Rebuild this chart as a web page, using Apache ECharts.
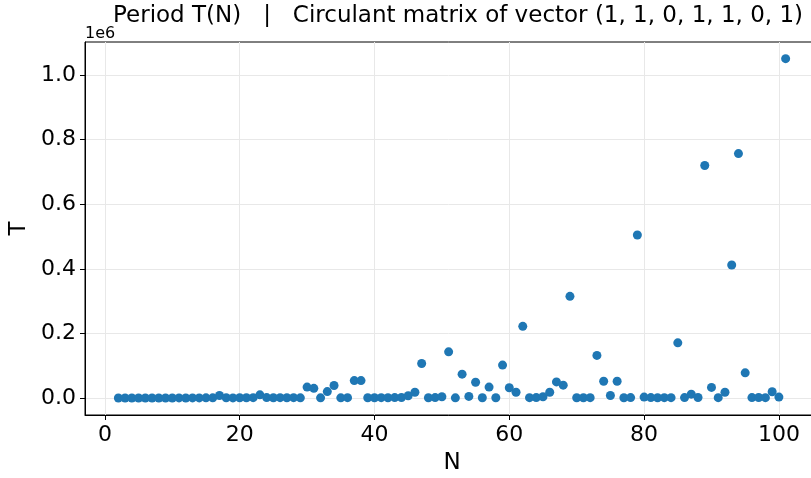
<!DOCTYPE html>
<html>
<head>
<meta charset="utf-8">
<script src="https://cdn.jsdelivr.net/npm/echarts@6/dist/echarts.min.js"></script>
<style>
  html, body { margin: 0; padding: 0; background: #fff; }
  #chart { width: 811px; height: 478px; }
</style>
</head>
<body>
<div id="chart"></div>
<script>
// N values (matrix size) and period T(N)
const nValues = [
  2, 3, 4, 5, 6, 7, 8, 9, 10, 11, 12, 13, 14, 15, 16, 17, 18, 19, 20, 21,
  22, 23, 24, 25, 26, 27, 28, 29, 30, 31, 32, 33, 34, 35, 36, 37, 38, 39, 40, 41,
  42, 43, 44, 45, 46, 47, 48, 49, 50, 51, 52, 53, 54, 55, 56, 57, 58, 59, 60, 61,
  62, 63, 64, 65, 66, 67, 68, 69, 70, 71, 72, 73, 74, 75, 76, 77, 78, 79, 80, 81,
  82, 83, 84, 85, 86, 87, 88, 89, 90, 91, 92, 93, 94, 95, 96, 97, 98, 99, 100, 101
];
const periods = [
  6, 12, 20, 60, 42, 56, 120, 210, 300, 330, 250, 500, 400, 600, 700, 8000, 900, 500, 1000, 800,
  1200, 10000, 1400, 900, 1100, 800, 1100, 600, 34000, 30000, 600, 20000, 39000, 600, 1200, 54000, 54000, 1000, 800, 1200,
  900, 1400, 1600, 7000, 18000, 107000, 1000, 1500, 4000, 143000, 700, 74000, 5000, 49000, 900, 34000, 1000, 102000, 32000, 18000,
  222000, 1200, 1500, 4000, 18000, 50000, 40000, 315000, 800, 900, 1200, 132000, 52000, 8000, 52000, 1000, 1400, 505000, 3000, 1500,
  1000, 1200, 1300, 171000, 1500, 12000, 1800, 720000, 33000, 1200, 18000, 412000, 757000, 78000, 1500, 1600, 1200, 19500, 3000, 1051000
];
const xTicks = [0, 20, 40, 60, 80, 100];
const yTicks = [0, 200000, 400000, 600000, 800000, 1000000];

const points = nValues.map((n, i) => [n, periods[i]]);

const chart = echarts.init(document.getElementById("chart"));
const font = "DejaVu Sans";

chart.setOption({
  animation: false,
  backgroundColor: "#fff",
  title: {
    text: "Period T(N)   |   Circulant matrix of vector (1, 1, 0, 1, 1, 0, 1)",
    left: 453,
    textAlign: "center",
    top: 0,
    textStyle: { fontFamily: font, fontWeight: "normal", fontSize: 23, color: "#000" },
  },
  graphic: [
    {
      type: "text",
      left: 85,
      top: 26,
      style: { text: "1e6", font: "16px " + font, fill: "#000" },
    },
  ],
  grid: {
    left: 85,
    right: -8,
    top: 42,
    bottom: 63,
    outerBoundsMode: "none",
    containLabel: false,
    show: true,
    borderColor: "#000",
    borderWidth: 1,
    backgroundColor: "transparent",
  },
  xAxis: {
    type: "value",
    min: -2.95,
    max: 105.95,
    name: "N",
    nameLocation: "middle",
    nameGap: 37,
    nameTextStyle: { fontFamily: font, fontSize: 23, color: "#000" },
    axisLine: { show: true, onZero: false, lineStyle: { color: "#000", width: 1 } },
    axisTick: { show: true, customValues: xTicks, length: 5, lineStyle: { color: "#000" } },
    axisLabel: {
      customValues: xTicks,
      margin: 9,
      fontFamily: font,
      fontSize: 22,
      color: "#000",
    },
    splitLine: { show: true, lineStyle: { color: "#e8e8e8", width: 1 } },
  },
  yAxis: {
    type: "value",
    min: -52500,
    max: 1102500,
    name: "T",
    nameLocation: "middle",
    nameGap: 52,
    nameRotate: 90,
    nameTextStyle: { fontFamily: font, fontSize: 23, color: "#000" },
    axisLine: { show: true, onZero: false, lineStyle: { color: "#000", width: 1 } },
    axisTick: { show: true, customValues: yTicks, length: 5, lineStyle: { color: "#000" } },
    axisLabel: {
      customValues: yTicks,
      margin: 9,
      fontFamily: font,
      fontSize: 22,
      color: "#000",
      formatter: (v) => (v / 1e6).toFixed(1),
    },
    splitLine: { show: true, lineStyle: { color: "#e8e8e8", width: 1 } },
  },
  series: [
    {
      type: "scatter",
      data: points,
      symbolSize: 9,
      itemStyle: { color: "#1f77b4", opacity: 1 },
    },
  ],
});
</script>
</body>
</html>
